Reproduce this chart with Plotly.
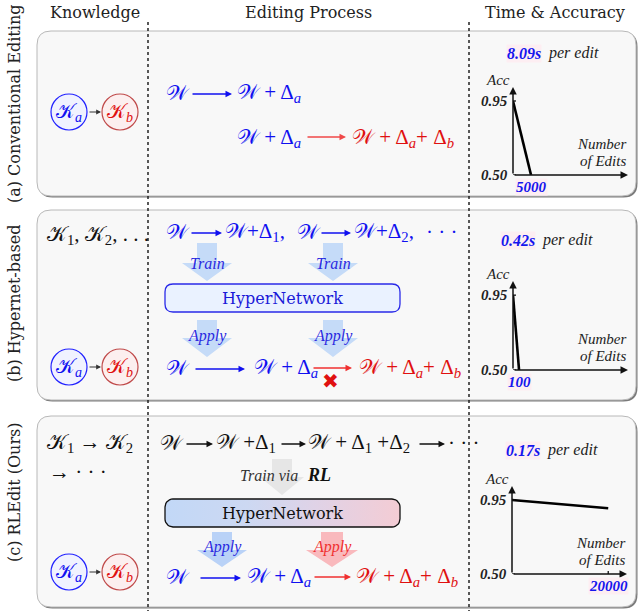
import plotly.graph_objects as go
import numpy as np

W, H = 638, 611

# ---------------- data ----------------
headers = ["Knowledge", "Editing Process", "Time & Accuracy"]
panel_labels = ["(a) Conventional Editing", "(b) Hypernet-based", "(c) RLEdit (Ours)"]
time_per_edit = ["8.09s", "0.42s", "0.17s"]
edits_a = [0, 5000]
acc_a = [0.95, 0.50]
edits_b = [0, 100]
acc_b = [0.95, 0.50]
edits_c = [0, 20000]
acc_c = [0.95, 0.90]
edit_tick_labels = ["5000", "100", "20000"]
acc_tick_vals = [0.50, 0.95]
acc_tick_text = ["0.50", "0.95"]

SERIF = "DejaVu Serif"
ITAL = "Liberation Serif"
MATH = "Liberation Serif, DejaVu Serif, DejaVu Sans"
BLUE = "#1010f0"
RED = "#e01010"
DARK = "#222222"

fig = go.Figure()
shapes = []
ann = []


def txt(x, y, s, size=16, color=DARK, anchor="center", family=SERIF, bg=None, angle=0):
    d = dict(x=x, y=y, xref="x", yref="y", text=s, showarrow=False,
             font=dict(size=size, color=color, family=family),
             xanchor=anchor, yanchor="middle", textangle=angle)
    if bg:
        d["bgcolor"] = bg
        d["borderpad"] = 0
    ann.append(d)


def arrow(x0, x1, y, color, width=1.3, size=1.0, y1=None):
    ann.append(dict(x=x1, y=y if y1 is None else y1, ax=x0, ay=y, xref="x", yref="y",
                    axref="x", ayref="y", text="", showarrow=True, arrowhead=2,
                    arrowsize=size, arrowwidth=width, arrowcolor=color))


def rrect(x0, y0, x1, y1, r):
    return (f"M{x0+r},{y0} L{x1-r},{y0} Q{x1},{y0} {x1},{y0+r} L{x1},{y1-r} "
            f"Q{x1},{y1} {x1-r},{y1} L{x0+r},{y1} Q{x0},{y1} {x0},{y1-r} "
            f"L{x0},{y0+r} Q{x0},{y0} {x0+r},{y0} Z")


def block_arrow(cx, y0, ys, y1, sw, hw, color):
    p = (f"M{cx-sw},{y0} L{cx+sw},{y0} L{cx+sw},{ys} L{cx+hw},{ys} L{cx},{y1} "
         f"L{cx-hw},{ys} L{cx-sw},{ys} Z")
    shapes.append(dict(type="path", path=p, xref="x", yref="y", fillcolor=color,
                       line=dict(width=0), layer="below"))


# ---------------- panel boxes ----------------
boxes = [(37, 31, 636, 196), (37, 210, 636, 400), (37, 416, 636, 607)]
for (x0, y0, x1, y1) in boxes:
    shapes.append(dict(type="path", path=rrect(x0 + 1.5, y0 + 1.5, x1 + 1.5, y1 + 1.5, 14),
                       xref="x", yref="y", fillcolor="#7a7a7a", line=dict(width=0), layer="below"))
    shapes.append(dict(type="path", path=rrect(x0, y0, x1, y1, 14), xref="x", yref="y",
                       fillcolor="#f8f8f8", line=dict(color="#b8b8b8", width=1), layer="below"))

# dotted column separators
for xv in (148, 469):
    shapes.append(dict(type="line", x0=xv, x1=xv, y0=22, y1=611, xref="x", yref="y",
                       line=dict(color="#222", width=1.5, dash="dot"), layer="above"))

# headers
for s, cx in zip(headers, (95, 308, 555)):
    txt(cx, 12, s, size=16, color=DARK)

# side labels
for s, cy in zip(panel_labels, (104, 304, 492)):
    txt(14, cy, s, size=16, color=DARK, angle=-90)

# ---------------- knowledge circles ----------------
for cy in (112, 367, 572):
    shapes.append(dict(type="circle", x0=51, x1=87, y0=cy - 18, y1=cy + 18, xref="x", yref="y",
                       fillcolor="#f0f2ff", line=dict(color="#2222ff", width=1.2), layer="below"))
    shapes.append(dict(type="circle", x0=102, x1=138, y0=cy - 18, y1=cy + 18, xref="x", yref="y",
                       fillcolor="#fcefef", line=dict(color="#c04a4a", width=1.2), layer="below"))
    txt(69, cy, "𝒦<sub><i>a</i></sub>", size=20, color=BLUE, family=MATH)
    txt(120, cy, "𝒦<sub><i>b</i></sub>", size=20, color=RED, family=MATH)
    arrow(88, 101, cy, "#333", width=1.2, size=0.8)

txt(45, 235, "𝒦<sub>1</sub>, 𝒦<sub>2</sub>, . . .", size=21, color="#111", anchor="left", family=MATH)
txt(45, 443, "𝒦<sub>1</sub> → 𝒦<sub>2</sub>", size=21, color="#111", anchor="left", family=MATH)
txt(47, 472, "→ · · ·", size=21, color="#111", anchor="left", family=MATH)

# ---------------- editing process ----------------
MS = 21
WA = "𝒲 + Δ<sub><i>a</i></sub>"
WAB = "𝒲 + Δ<sub><i>a</i></sub>+ Δ<sub><i>b</i></sub>"
# (a)
txt(164, 93, "𝒲", MS, BLUE, "left", MATH)
arrow(191, 232, 94, BLUE)
txt(235, 93, WA, MS, BLUE, "left", MATH)
txt(235, 138, WA, MS, BLUE, "left", MATH)
arrow(306, 346, 137, "#f04848")
txt(350, 138, WAB, MS, RED, "left", MATH)

# (b)
txt(164, 232, "𝒲", MS, BLUE, "left", MATH)
arrow(190, 222, 233, BLUE)
txt(223, 232, "𝒲+Δ<sub>1</sub>,", MS, BLUE, "left", MATH)
txt(295, 232, "𝒲", MS, BLUE, "left", MATH)
arrow(320, 351, 233, BLUE)
txt(352, 232, "𝒲+Δ<sub>2</sub>,", MS, BLUE, "left", MATH)
txt(424, 232, "· · ·", MS, BLUE, "left", MATH)
for cx in (207, 333):
    block_arrow(cx, 243, 263, 281, 10, 25, "#c5dbf8")
    txt(cx, 263, "<i>Train</i>", 16, "#2a2ae0", family=ITAL)
    block_arrow(cx, 320, 338, 357, 10, 25, "#c5dbf8")
    txt(cx, 336, "<i>Apply</i>", 16, "#2a2ae0", family=ITAL)
shapes.append(dict(type="path", path=rrect(165, 284, 400, 312, 8), xref="x", yref="y",
                   fillcolor="#eaf2ff", line=dict(color="#2a2ae8", width=1.3), layer="below"))
txt(282, 298, "HyperNetwork", 16, "#1a1ad8")
txt(164, 368, "𝒲", MS, BLUE, "left", MATH)
arrow(194, 245, 369, BLUE)
txt(252, 368, WA, MS, BLUE, "left", MATH)
arrow(312, 352, 368, "#f03030")
txt(357, 368, WAB, MS, RED, "left", MATH)
txt(330, 381, "✖", 20, "#e01010", family="DejaVu Sans")

# (c)
txt(158, 443, "𝒲", MS, "#111", "left", MATH)
arrow(185, 213, 444, "#111")
txt(214, 443, "𝒲 +Δ<sub>1</sub>", MS, "#111", "left", MATH)
arrow(280, 306, 444, "#111")
txt(306, 443, "𝒲 + Δ<sub>1</sub> +Δ<sub>2</sub>", MS, "#111", "left", MATH)
arrow(418, 445, 444, "#111")
txt(446, 443, "· · ·", MS, "#111", "left", MATH)

block_arrow(282, 459, 477, 495, 10, 22, "#e6e6e6")
txt(300, 475, "<i>Train via</i>", 16, "#333", "right", family=ITAL)
txt(305, 475, "<b><i>RL</i></b>", 18, "#111", "left", family=ITAL)

# gradient hypernetwork box as a filled scatter path
def rrect_pts(x0, y0, x1, y1, r, n=8):
    pts = []
    corners = [(x1 - r, y0 + r, -90, 0), (x1 - r, y1 - r, 0, 90),
               (x0 + r, y1 - r, 90, 180), (x0 + r, y0 + r, 180, 270)]
    for cx, cy, a0, a1 in corners:
        for t in np.linspace(np.radians(a0), np.radians(a1), n):
            pts.append((cx + r * np.cos(t), cy + r * np.sin(t)))
    pts.append(pts[0])
    return [p[0] for p in pts], [p[1] for p in pts]

gx, gy = rrect_pts(165, 499, 400, 527, 8)
fig.add_trace(go.Scatter(x=gx, y=gy, xaxis="x", yaxis="y", mode="lines", fill="toself",
                         fillgradient=dict(type="horizontal",
                                           colorscale=[[0, "#c2d8f7"], [0.35, "#ccd8f2"],
                                                       [0.65, "#e0d2e6"], [1, "#f4ccd4"]]),
                         line=dict(color="#111", width=1.3), hoverinfo="skip", showlegend=False))
txt(282, 513, "HyperNetwork", 16, "#111")

block_arrow(222, 532, 550, 567, 10, 25, "#b9d2f7")
txt(222, 547, "<i>Apply</i>", 16, "#2a2ae0", family=ITAL)
block_arrow(332, 532, 550, 567, 11, 26, "#f9b9bd")
txt(332, 547, "<i>Apply</i>", 16, "#f03030", family=ITAL)
txt(164, 577, "𝒲", MS, BLUE, "left", MATH)
arrow(199, 241, 578, BLUE)
txt(245, 577, WA, MS, BLUE, "left", MATH)
arrow(313, 351, 577, "#f03030")
txt(354, 577, WAB, MS, RED, "left", MATH)

# ---------------- small accuracy charts ----------------
charts = [
    dict(xs=edits_a, ys=acc_a, px0=513, px1=628, py0=175, py1=87, xmax=31900, tl=(542, 53)),
    dict(xs=edits_b, ys=acc_b, px0=513, px1=628, py0=370, py1=281, xmax=1900, tl=(536, 240)),
    dict(xs=edits_c, ys=acc_c, px0=512, px1=627, py0=574, py1=486, xmax=23900, tl=(541, 450)),
]
YTOP = 1.035
for i, c in enumerate(charts):
    k = i + 2
    xa, ya = f"x{k}", f"y{k}"
    fig.update_layout(**{
        f"xaxis{k}": dict(domain=[c["px0"] / W, c["px1"] / W], range=[0, c["xmax"]], visible=False,
                          anchor=ya),
        f"yaxis{k}": dict(domain=[1 - c["py0"] / H, 1 - c["py1"] / H], range=[0.5, YTOP],
                          visible=False, anchor=xa),
    })
    # axes with arrowheads
    for (tx, ty) in ((c["xmax"], 0.5), (0, YTOP)):
        ann.append(dict(x=tx, y=ty, ax=0, ay=0.5, xref=xa, yref=ya, axref=xa, ayref=ya, text="",
                        showarrow=True, arrowhead=2, arrowsize=1, arrowwidth=1.5, arrowcolor="#111"))
    # line
    fig.add_trace(go.Scatter(x=c["xs"], y=c["ys"], xaxis=xa, yaxis=ya, mode="lines",
                             line=dict(color="#000", width=2.6), showlegend=False, hoverinfo="skip"))
    # y ticks
    for v, t in zip(acc_tick_vals, acc_tick_text):
        shapes.append(dict(type="line", xref=xa, yref=ya, xsizemode="pixel", xanchor=0, x0=-4, x1=3,
                           y0=v, y1=v, line=dict(color="#111", width=1.3)))
        ann.append(dict(x=0, y=v, xref=xa, yref=ya, text=f"<b><i>{t}</i></b>", showarrow=False,
                        xanchor="right", xshift=-3, font=dict(size=15, color="#222", family=ITAL)))
    # x tick label
    ann.append(dict(x=c["xs"][-1], y=0.5, xref=xa, yref=ya, text=f"<b><i>{edit_tick_labels[i]}</i></b>",
                    showarrow=False, yshift=-12, font=dict(size=15, color="#1515ee", family=ITAL),
                    bgcolor="#fdeef2", borderpad=0))
    if i == 2:
        shapes.append(dict(type="line", xref=xa, yref=ya, ysizemode="pixel", yanchor=0.5, y0=-2, y1=3,
                           x0=c["xs"][-1], x1=c["xs"][-1], line=dict(color="#111", width=1.3)))
    # labels
    ann.append(dict(x=0, y=YTOP, xref=xa, yref=ya, text="<i>Acc</i>", showarrow=False, xanchor="right",
                    xshift=-1, yshift=7, font=dict(size=15, color="#222", family=ITAL)))
    txt(c["px1"], c["py0"] - 31, "<i>Number</i>", 15, "#222", "right", family=ITAL)
    txt(c["px1"], c["py0"] - 14, "<i>of Edits</i>", 15, "#222", "right", family=ITAL)
    t1, ty = c["tl"]
    txt(t1, ty, f"<b><i>{time_per_edit[i]}</i></b>", 16, "#1515ee", "right", family=ITAL, bg="#fdeef2")
    txt(t1 + 4, ty, "<i>per edit</i>", 16, "#222", "left", family=ITAL)

fig.update_layout(
    width=W, height=H, margin=dict(l=0, r=0, t=0, b=0),
    paper_bgcolor="white", plot_bgcolor="rgba(0,0,0,0)",
    xaxis=dict(range=[0, W], domain=[0, 1], visible=False, fixedrange=True),
    yaxis=dict(range=[H, 0], domain=[0, 1], visible=False, fixedrange=True),
    shapes=shapes, annotations=ann, showlegend=False, hovermode=False,
)
fig.write_html("out.html", config={"displayModeBar": False, "staticPlot": True},
               post_script="document.body.style.margin='0';document.body.style.overflow='hidden';")
